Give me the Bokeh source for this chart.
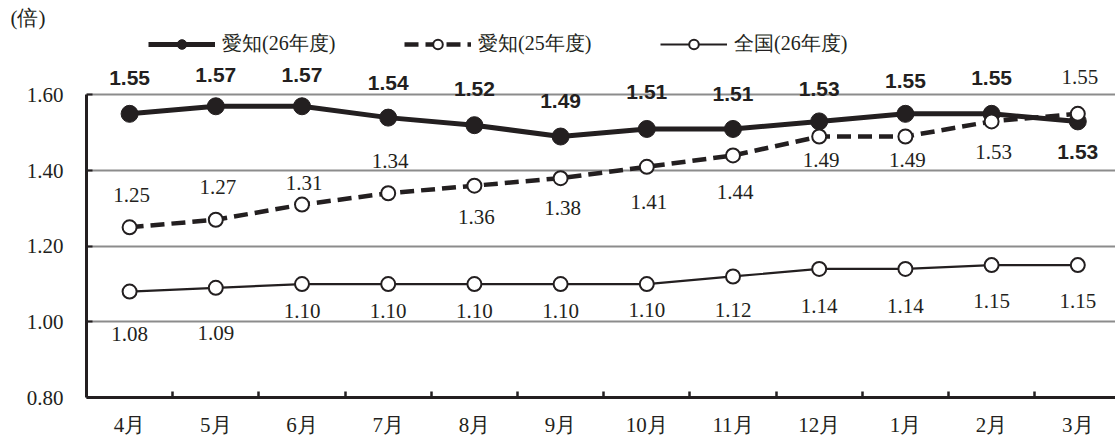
from bokeh.plotting import figure
from bokeh.models import (FixedTicker, Range1d, Legend, LegendItem,
                          ColumnDataSource)
from bokeh.core.properties import value
from bokeh.embed import file_html
from bokeh.resources import INLINE

# ---------------- data ----------------
MONTHS = ["4月", "5月", "6月", "7月", "8月", "9月", "10月", "11月", "12月", "1月", "2月", "3月"]
AICHI_26 = [1.55, 1.57, 1.57, 1.54, 1.52, 1.49, 1.51, 1.51, 1.53, 1.55, 1.55, 1.53]
AICHI_25 = [1.25, 1.27, 1.31, 1.34, 1.36, 1.38, 1.41, 1.44, 1.49, 1.49, 1.53, 1.55]
NATIONAL = [1.08, 1.09, 1.10, 1.10, 1.10, 1.10, 1.10, 1.12, 1.14, 1.14, 1.15, 1.15]
SERIES_NAMES = ["愛知(26年度)", "愛知(25年度)", "全国(26年度)"]
Y_TICKS = [0.80, 1.00, 1.20, 1.40, 1.60]
Y_TICK_LABELS = ["0.80", "1.00", "1.20", "1.40", "1.60"]
UNIT_LABEL = "(倍)"

# value-label placement (screen px, + = down)
A26_LABEL_DY = [-36, -31, -31, -35, -36, -36, -37, -35, -32, -33, -36, 31]
A25_LABEL_DY = [-32, -33, -22, -32, 31, 30, 35, 37, 23, 23, 31, -37]
NAT_LABEL_DY = [42, 45, 27, 27, 27, 27, 26, 34, 37, 37, 36, 36]

# ---------------- layout ----------------
W, H = 1115, 439
BORDER_L, BORDER_B, BORDER_T = 86, 41, 30
PX_PER_CAT = 86.2
PX_PER_UNIT = 379.25
FRAME_W = W - BORDER_L
FRAME_H = H - BORDER_B - BORDER_T

INK = "#231f20"
GRID = "#8c8c8c"
SERIF = "Liberation Serif"
BOLD_SANS = "Liberation Sans"

x = list(range(len(MONTHS)))
x_end = -0.5 + FRAME_W / PX_PER_CAT
y_end = 0.80 + FRAME_H / PX_PER_UNIT

p = figure(width=W, height=H, output_backend="svg", toolbar_location=None,
           x_range=Range1d(-0.5, x_end), y_range=Range1d(0.80, y_end),
           min_border_left=BORDER_L, min_border_bottom=BORDER_B,
           min_border_top=BORDER_T, min_border_right=0,
           background_fill_color="white", border_fill_color="white")
p.outline_line_color = None

# unit label as title
p.title.text = UNIT_LABEL
p.title.align = "left"
p.title.offset = -76
p.title.vertical_align = "middle"
p.title.text_font = SERIF
p.title.text_font_style = "normal"
p.title.text_font_size = "21px"
p.title.text_color = INK
p.title.standoff = 0

# axes
p.xaxis.ticker = FixedTicker(ticks=x, minor_ticks=[i + 0.5 for i in x[:-1]])
p.xaxis.major_label_overrides = {i: m for i, m in zip(x, MONTHS)}
p.xaxis.major_tick_in = 0
p.xaxis.major_tick_out = 0
p.xaxis.minor_tick_in = 6
p.xaxis.minor_tick_out = 0
p.xaxis.minor_tick_line_color = INK
p.xaxis.minor_tick_line_width = 2.5
p.xaxis.axis_line_color = INK
p.xaxis.axis_line_width = 3
p.xaxis.major_label_standoff = 15
p.xaxis.major_label_text_font = SERIF
p.xaxis.major_label_text_font_size = "21px"
p.xaxis.major_label_text_color = INK

p.yaxis.ticker = FixedTicker(ticks=Y_TICKS)
p.yaxis.major_label_overrides = {t: s for t, s in zip(Y_TICKS, Y_TICK_LABELS)}
p.yaxis.bounds = (Y_TICKS[0], Y_TICKS[-1])
p.yaxis.major_tick_in = 6
p.yaxis.major_tick_out = 0
p.yaxis.major_tick_line_color = INK
p.yaxis.major_tick_line_width = 2
p.yaxis.minor_tick_line_color = None
p.yaxis.axis_line_color = INK
p.yaxis.axis_line_width = 3
p.yaxis.major_label_standoff = 23
p.yaxis.major_label_text_font = SERIF
p.yaxis.major_label_text_font_size = "21px"
p.yaxis.major_label_text_color = INK

p.xgrid.visible = False
p.ygrid.grid_line_color = GRID
p.ygrid.grid_line_width = 2

# series
src26 = ColumnDataSource(dict(x=x, y=AICHI_26, t=[f"{v:.2f}" for v in AICHI_26], dy=A26_LABEL_DY))
src25 = ColumnDataSource(dict(x=x, y=AICHI_25, t=[f"{v:.2f}" for v in AICHI_25], dy=A25_LABEL_DY))
srcn = ColumnDataSource(dict(x=x, y=NATIONAL, t=[f"{v:.2f}" for v in NATIONAL], dy=NAT_LABEL_DY))

l26 = p.line("x", "y", source=src26, line_color=INK, line_width=5)
m26 = p.scatter("x", "y", source=src26, marker="circle", size=17,
                fill_color=INK, line_color=INK, line_width=1)
l25 = p.line("x", "y", source=src25, line_color=INK, line_width=4.5, line_dash="14 7")
m25 = p.scatter("x", "y", source=src25, marker="circle", size=14,
                fill_color="white", line_color=INK, line_width=2)
ln = p.line("x", "y", source=srcn, line_color=INK, line_width=2.2)
mn = p.scatter("x", "y", source=srcn, marker="circle", size=14,
               fill_color="white", line_color=INK, line_width=2)

# value labels
p.text("x", "y", text="t", source=src26, y_offset="dy", text_align="center",
       text_baseline="middle", text_font=value(BOLD_SANS), text_font_style="bold",
       text_font_size="21px", text_color=INK)
p.text("x", "y", text="t", source=src25, y_offset="dy", x_offset=2, text_align="center",
       text_baseline="middle", text_font=value(SERIF),
       text_font_size="21px", text_color=INK)
p.text("x", "y", text="t", source=srcn, y_offset="dy", text_align="center",
       text_baseline="middle", text_font=value(SERIF),
       text_font_size="21px", text_color=INK)

# legend
legend = Legend(items=[LegendItem(label=SERIES_NAMES[0], renderers=[l26, m26]),
                       LegendItem(label=SERIES_NAMES[1], renderers=[l25, m25]),
                       LegendItem(label=SERIES_NAMES[2], renderers=[ln, mn])],
                orientation="horizontal", location=(62, 340),
                glyph_width=67, glyph_height=24, label_height=24, label_width=125,
                label_standoff=7, spacing=57, padding=0, margin=0,
                border_line_color=None, background_fill_alpha=0,
                label_text_font=SERIF, label_text_font_size="20px",
                label_text_color=INK)
p.add_layout(legend)

open("out.html", "w").write(file_html(p, INLINE))
